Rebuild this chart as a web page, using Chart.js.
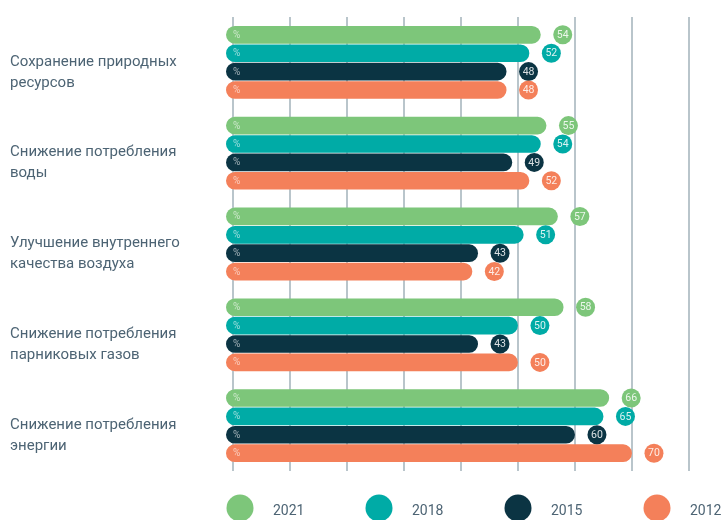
<!DOCTYPE html>
<html>
<head>
<meta charset="utf-8">
<script src="https://cdn.jsdelivr.net/npm/chart.js@4/dist/chart.umd.min.js"></script>
<style>
  html, body { margin: 0; padding: 0; background: #fff; }
  #wrap { width: 726px; height: 520px; }
</style>
</head>
<body>
<div id="wrap"><canvas id="myChart" width="726" height="520"></canvas></div>
<script>
const categories = [
    ["Сохранение природных", "ресурсов"],
    ["Снижение потребления", "воды"],
    ["Улучшение внутреннего", "качества воздуха"],
    ["Снижение потребления", "парниковых газов"],
    ["Снижение потребления", "энергии"]
];
const years = ["2021", "2018", "2015", "2012"];
const values2021 = [54, 55, 57, 58, 66];
const values2018 = [52, 54, 51, 50, 65];
const values2015 = [48, 49, 43, 43, 60];
const values2012 = [48, 52, 42, 50, 70];
const gridTicks = [0, 10, 20, 30, 40, 50, 60, 70, 80];

const colors = ["#7dc67a", "#00aba6", "#0b3443", "#f4805a"];
const textColor = "#4d6474";
const fontFamily = "Roboto, 'Noto Sans', sans-serif";

// значения в кружках и знак % в начале полосы
const valueBubbles = {
    id: "valueBubbles",
    afterDatasetsDraw(chart) {
        const ctx = chart.ctx;
        ctx.save();
        chart.data.datasets.forEach((ds, i) => {
            const meta = chart.getDatasetMeta(i);
            meta.data.forEach((bar, j) => {
                const cx = bar.x + 22;
                ctx.beginPath();
                ctx.arc(cx, bar.y, 9.5, 0, Math.PI * 2);
                ctx.fillStyle = ds.backgroundColor;
                ctx.fill();
                ctx.fillStyle = "rgba(255,255,255,0.85)";
                ctx.font = "10.5px " + fontFamily;
                ctx.textAlign = "center";
                ctx.textBaseline = "middle";
                ctx.fillText(ds.data[j], cx, bar.y + 0.5);
                ctx.fillStyle = "rgba(255,255,255,0.6)";
                ctx.font = "10px " + fontFamily;
                ctx.textAlign = "left";
                ctx.fillText("%", chart.chartArea.left + 7, bar.y + 0.5);
            });
        });
        ctx.restore();
    }
};

// легенда внизу
const bottomLegend = {
    id: "bottomLegend",
    afterDraw(chart) {
        const ctx = chart.ctx;
        ctx.save();
        chart.data.datasets.forEach((ds, i) => {
            const cx = 240 + i * 139;
            const cy = 508;
            ctx.beginPath();
            ctx.arc(cx, cy, 13.5, 0, Math.PI * 2);
            ctx.fillStyle = ds.backgroundColor;
            ctx.fill();
            ctx.fillStyle = textColor;
            ctx.font = "14px " + fontFamily;
            ctx.textAlign = "left";
            ctx.textBaseline = "middle";
            ctx.fillText(ds.label, cx + 33, cy + 3);
        });
        ctx.restore();
    }
};

const seriesValues = [values2021, values2018, values2015, values2012];

const ctx = document.getElementById("myChart").getContext("2d");
const myChart = new Chart(ctx, {
    type: "bar",
    data: {
        labels: categories,
        datasets: years.map((y, i) => ({
            label: y,
            data: seriesValues[i],
            backgroundColor: colors[i],
            borderRadius: 9,
            borderSkipped: false,
            base: -1.2,
            categoryPercentage: 0.81,
            barPercentage: 0.96
        }))
    },
    options: {
        indexAxis: "y",
        responsive: false,
        animation: false,
        layout: { padding: { left: 10, right: 37, top: 17, bottom: 49 } },
        plugins: {
            legend: { display: false },
            tooltip: { enabled: false }
        },
        scales: {
            x: {
                min: -1.2,
                max: 80,
                afterBuildTicks: scale => {
                    scale.ticks = gridTicks.map(v => ({ value: v }));
                },
                ticks: { display: false },
                border: { display: false },
                grid: { color: "#b9c5cb", lineWidth: 2, drawTicks: false }
            },
            y: {
                afterFit: scale => {
                    scale.width = 216;
                    scale.paddingTop = 0;
                    scale.paddingBottom = 0;
                },
                border: { display: false },
                grid: { display: false },
                ticks: {
                    crossAlign: "far",
                    labelOffset: 10,
                    color: textColor,
                    font: { family: fontFamily, size: 15, lineHeight: 1.4 }
                }
            }
        }
    },
    plugins: [valueBubbles, bottomLegend]
});
</script>
</body>
</html>
